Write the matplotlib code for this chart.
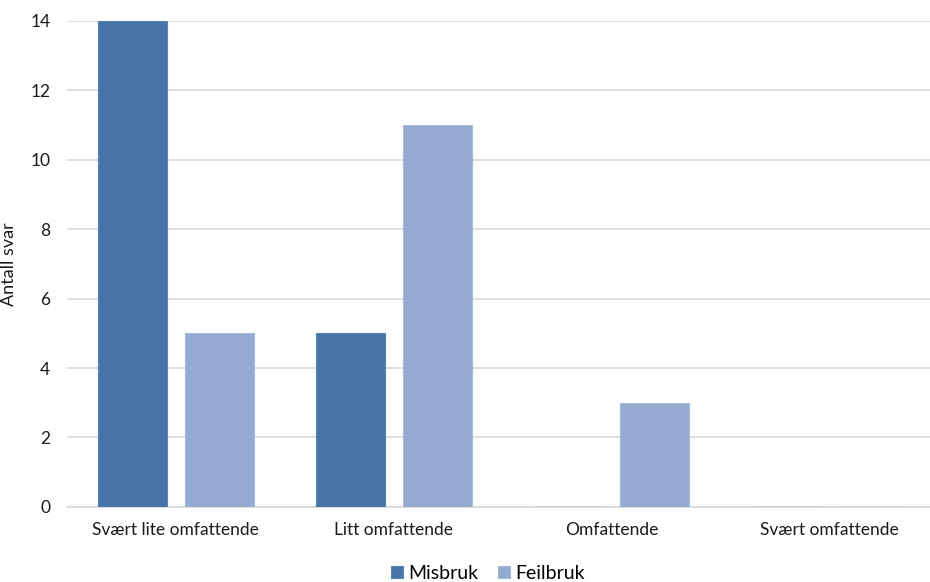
import matplotlib.pyplot as plt
import numpy as np

plt.rcParams['font.family'] = ['Lato', 'DejaVu Sans']

categories = ["Svært lite omfattende", "Litt omfattende", "Omfattende", "Svært omfattende"]
misbruk = [14, 5, 0, 0]
feilbruk = [5, 11, 3, 0]
yticks = [0, 2, 4, 6, 8, 10, 12, 14]

dark = "#4674A8"
light = "#95AAD1"
grid = "#D9D9D9"

fig = plt.figure(figsize=(9.3, 5.82), dpi=100)
# plot area runs a little past the right edge, so the gridlines reach it
ax = fig.add_axes([0.072, 0.129, 0.937, 0.835])

x = np.arange(len(categories))
w = 0.317
ax.bar(x - 0.199, misbruk, w, color=dark, edgecolor="#5A84B5", linewidth=0.8,
       label="Misbruk", zorder=3)
ax.bar(x + 0.199, feilbruk, w, color=light, edgecolor="#A6BADB", linewidth=0.8,
       label="Feilbruk", zorder=3)

ax.set_xlim(-0.5, len(categories) - 0.5)
ax.set_ylim(0, 14)
ax.set_yticks(yticks)
ax.set_xticks(x)
ax.set_xticklabels(categories, fontsize=12.5, color="#1a1a1a")
ax.tick_params(axis="y", labelsize=12.5, colors="#1a1a1a", length=0, pad=12)
ax.tick_params(axis="x", length=0, pad=11)
ax.yaxis.grid(True, color=grid, linewidth=1.2, zorder=0)
for s in ["top", "right", "left"]:
    ax.spines[s].set_visible(False)
ax.spines["bottom"].set_color(grid)
ax.spines["bottom"].set_linewidth(1.2)

ax.set_ylabel("Antall svar", fontsize=13, color="#1a1a1a")
ax.yaxis.set_label_coords(-0.057, 0.5)

fig.legend(loc="lower center", bbox_to_anchor=(0.525, -0.03), ncol=2, frameon=False,
           fontsize=14, handlelength=0.6, handleheight=0.6, handletextpad=0.3,
           columnspacing=1.0)

fig.savefig("out.png", dpi=100)
